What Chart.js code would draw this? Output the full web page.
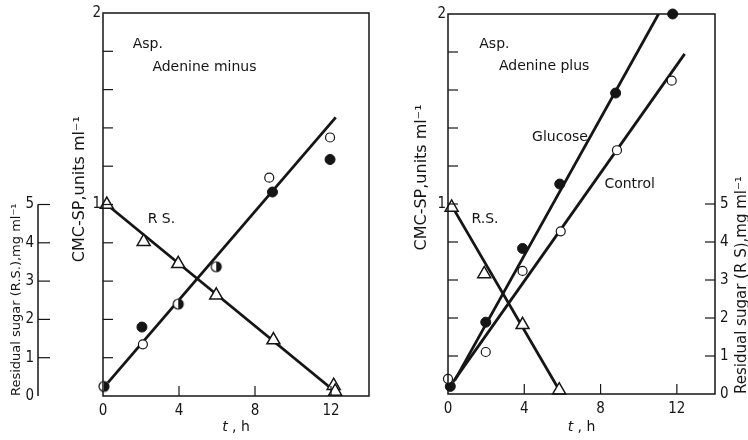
<!DOCTYPE html>
<html>
<head>
<meta charset="utf-8">
<script src="https://cdn.jsdelivr.net/npm/chart.js@4.4.1/dist/chart.umd.min.js"></script>
<style>
  html, body { margin: 0; padding: 0; background: #fff; }
  #wrap { position: relative; width: 748px; height: 440px; }
  #wrap canvas { position: absolute; top: 0; }
  #left { left: 0; }
  #right { left: 380px; }
</style>
</head>
<body>
<div id="wrap">
  <canvas id="left" width="380" height="440"></canvas>
  <canvas id="right" width="368" height="440"></canvas>
</div>
<script>
// tick values
const T_TICKS = [0, 4, 8, 12];
const CMC_TICKS = [0, 0.2, 0.4, 0.6, 0.8, 1, 1.2, 1.4, 1.6, 1.8, 2];
const CMC_LABELS = [1, 2];
const RS_TICKS = [0, 1, 2, 3, 4, 5];

// Adenine minus (left panel)
const minusOpenT = [2.1, 8.75, 11.95];
const minusOpenCmc = [0.27, 1.14, 1.35];
const minusFilledT = [2.05, 8.92, 11.95];
const minusFilledCmc = [0.36, 1.065, 1.235];
const minusHalfT = [0.05, 3.96, 5.96];
const minusHalfCmc = [0.05, 0.48, 0.675];
const minusFitT = [0.26, 12.25];
const minusFitCmc = [0.07, 1.455];
const minusRsT = [0.2, 2.14, 3.96, 5.96, 8.97, 12.14, 12.22];
const minusRs = [5.0, 4.03, 3.45, 2.63, 1.46, 0.27, 0.12];
const minusRsFitT = [0.2, 12.5];
const minusRsFit = [5.0, 0];

// Adenine plus (right panel)
const glucoseT = [0.12, 1.98, 3.91, 5.86, 8.79, 11.78];
const glucoseCmc = [0.04, 0.378, 0.766, 1.105, 1.584, 2.0];
const glucoseFitT = [0.36, 11.04];
const glucoseFitCmc = [0.073, 2.0];
const controlT = [0.0, 1.98, 3.91, 5.91, 8.86, 11.73];
const controlCmc = [0.08, 0.221, 0.648, 0.856, 1.283, 1.649];
const controlFitT = [0.27, 12.41];
const controlFitCmc = [0.064, 1.79];
const plusRsT = [0.19, 1.9, 3.91, 5.83];
const plusRs = [4.91, 3.16, 1.82, 0.1];
const plusRsFitT = [0.2, 5.95];
const plusRsFit = [4.95, 0];

const INK = '#151515';
const FAMILY = "'DejaVu Sans', sans-serif";
const TICK_FONT = { family: "'DejaVu Sans Condensed', 'DejaVu Sans', sans-serif", size: 15 };
const TITLE_FONT = { family: FAMILY, size: 13 };
const NOTE_FONT = '14px ' + FAMILY;

const xy = (ts, vs) => ts.map((t, i) => ({ x: t, y: vs[i] }));

// half filled circle used where the two series overlap
function halfDot(r) {
  const c = document.createElement('canvas');
  const s = 2 * r + 4;
  c.width = c.height = s;
  const g = c.getContext('2d');
  const m = s / 2;
  g.beginPath(); g.arc(m, m, r, 0, 2 * Math.PI); g.fillStyle = '#fff'; g.fill();
  g.beginPath(); g.moveTo(m, m - r); g.arc(m, m, r, -Math.PI / 2, Math.PI / 2); g.closePath();
  g.fillStyle = INK; g.fill();
  g.beginPath(); g.arc(m, m, r, 0, 2 * Math.PI); g.lineWidth = 1.2; g.strokeStyle = INK; g.stroke();
  return c;
}

const styles = {
  open: { pointStyle: 'circle', pointRadius: 4.5, pointBackgroundColor: '#fff', pointBorderColor: INK, pointBorderWidth: 1.2 },
  filled: { pointStyle: 'circle', pointRadius: 5, pointBackgroundColor: INK, pointBorderColor: INK, pointBorderWidth: 1 },
  half: { pointStyle: halfDot(5), pointRadius: 5 },
  tri: { pointStyle: 'triangle', pointRadius: 7.5, pointBackgroundColor: '#fff', pointBorderColor: INK, pointBorderWidth: 1.5 }
};

const points = (ts, vs, axis, style) => Object.assign({ data: xy(ts, vs), yAxisID: axis, showLine: false, clip: false }, style);
const fit = (ts, vs, axis) => ({ data: xy(ts, vs), yAxisID: axis, showLine: true, borderColor: INK, borderWidth: 2.8, pointRadius: 0, order: 1 });

// frame round the plot area, inward tick marks, short axis lines
const frameAndTicks = {
  id: 'frameAndTicks',
  afterDraw(chart, args, opts) {
    const ctx = chart.ctx;
    const a = chart.chartArea;
    ctx.save();
    ctx.strokeStyle = INK;
    ctx.lineWidth = 1.5;
    ctx.strokeRect(a.left, a.top, a.right - a.left, a.bottom - a.top);
    ctx.lineWidth = 1.2;
    (opts.marks || []).forEach(m => {
      const s = chart.scales[m.id];
      const x0 = s.position === 'left' ? s.right : s.left;
      const dir = s.position === 'left' ? 1 : -1;
      if (m.line) {
        ctx.beginPath();
        ctx.moveTo(x0, s.getPixelForValue(m.line[0]));
        ctx.lineTo(x0, s.getPixelForValue(m.line[1]));
        ctx.lineWidth = 1.5; ctx.stroke(); ctx.lineWidth = 1.2;
      }
      s.ticks.forEach(t => {
        if (m.skip && m.skip.includes(t.value)) return;
        const p = s.getPixelForValue(t.value);
        ctx.beginPath();
        if (s.isHorizontal()) { ctx.moveTo(p, s.top); ctx.lineTo(p, s.top - m.len); }
        else { ctx.moveTo(x0, p); ctx.lineTo(x0 + dir * m.len, p); }
        ctx.stroke();
      });
    });
    ctx.restore();
  }
};

// in-plot labels, x title with italic t, rotated axis titles
const texts = {
  id: 'texts',
  afterDraw(chart, args, opts) {
    const ctx = chart.ctx;
    const x = chart.scales.x, y = chart.scales.y;
    ctx.save();
    ctx.fillStyle = INK;
    ctx.textBaseline = 'middle';
    ctx.font = NOTE_FONT;
    (opts.notes || []).forEach(n => ctx.fillText(n.text, x.getPixelForValue(n.t), y.getPixelForValue(n.v)));

    const cx = (chart.chartArea.left + chart.chartArea.right) / 2;
    const ty = x.bottom - 13;
    ctx.font = 'italic 14px ' + FAMILY;
    const w1 = ctx.measureText('t').width;
    ctx.font = '14px ' + FAMILY;
    const w2 = ctx.measureText(' , h').width;
    const x1 = cx - (w1 + w2) / 2;
    ctx.font = 'italic 14px ' + FAMILY;
    ctx.fillText('t', x1, ty);
    ctx.font = '14px ' + FAMILY;
    ctx.fillText(' , h', x1 + w1, ty);

    (opts.vtitles || []).forEach(v => {
      const s = chart.scales[v.id];
      const px = v.from === 'left' ? s.left + v.inset : s.right - v.inset;
      const py = v.anchor === 'start' ? s.bottom : y.getPixelForValue(v.at);
      ctx.save();
      ctx.translate(px, py);
      ctx.rotate(-Math.PI / 2);
      ctx.textAlign = v.anchor === 'start' ? 'left' : 'center';
      ctx.font = v.size + 'px ' + FAMILY;
      ctx.fillText(v.text, 0, 0);
      ctx.restore();
    });
    ctx.restore();
  }
};

const setTicks = vals => s => { s.ticks = vals.map(v => ({ value: v })); };
const noGrid = { display: false, drawTicks: false };

function xScale(h) {
  return {
    type: 'linear', min: 0, max: 14, position: 'bottom',
    afterBuildTicks: setTicks(T_TICKS),
    afterFit: s => { s.height = h; },
    grid: noGrid, border: { display: false },
    ticks: { font: TICK_FONT, color: INK, padding: 6, maxRotation: 0 }
  };
}

function cmcScale(w) {
  return {
    type: 'linear', min: 0, max: 2, position: 'left', weight: 0,
    afterBuildTicks: setTicks(CMC_TICKS),
    afterFit: s => { s.width = w; },
    grid: noGrid, border: { display: false },
    ticks: { font: TICK_FONT, color: INK, padding: 2, autoSkip: false,
      callback: v => CMC_LABELS.includes(v) ? String(v) : '' }
  };
}

const common = {
  responsive: false,
  animation: false,
  devicePixelRatio: 1
};

new Chart(document.getElementById('left'), {
  type: 'scatter',
  data: {
    datasets: [
      points(minusOpenT, minusOpenCmc, 'y', styles.open),
      points(minusFilledT, minusFilledCmc, 'y', styles.filled),
      points(minusHalfT, minusHalfCmc, 'y', styles.half),
      points(minusRsT, minusRs, 'rs', styles.tri),
      fit(minusFitT, minusFitCmc, 'y'),
      fit(minusRsFitT, minusRsFit, 'rs')
    ]
  },
  options: Object.assign({}, common, {
    layout: { padding: { top: 12, right: 11, left: 0, bottom: 0 } },
    plugins: {
      legend: { display: false },
      tooltip: { enabled: false },
      frameAndTicks: {
        marks: [
          { id: 'x', len: 10, skip: [0] },
          { id: 'y', len: 10, skip: [0, 2] },
          { id: 'rs', len: 12, skip: [0], line: [0, 5] }
        ]
      },
      texts: {
        notes: [
          { t: 1.56, v: 1.834, text: 'Asp.' },
          { t: 2.6, v: 1.714, text: 'Adenine minus' },
          { t: 2.35, v: 0.925, text: 'R S.' }
        ],
        vtitles: [
          { id: 'y', from: 'left', inset: 42, anchor: 'center', at: 1.08, size: 16, text: 'CMC-SP,units ml⁻¹' }
        ]
      }
    },
    scales: {
      x: xScale(44),
      y: cmcScale(65),
      rs: {
        type: 'linear', min: 0, max: 10, position: 'left', weight: 1,
        afterBuildTicks: setTicks(RS_TICKS),
        afterFit: s => { s.width = 38; },
        grid: noGrid, border: { display: false },
        ticks: { font: TICK_FONT, color: INK, padding: 4 },
        title: { display: true, text: 'Residual sugar (R.S.),mg ml⁻¹', align: 'start', font: TITLE_FONT, color: INK, padding: { top: 9, bottom: 0 } }
      }
    }
  }),
  plugins: [frameAndTicks, texts]
});

new Chart(document.getElementById('right'), {
  type: 'scatter',
  data: {
    datasets: [
      points(controlT, controlCmc, 'y', styles.open),
      points(glucoseT, glucoseCmc, 'y', styles.filled),
      points(plusRsT, plusRs, 'rs', styles.tri),
      fit(glucoseFitT, glucoseFitCmc, 'y'),
      fit(controlFitT, controlFitCmc, 'y'),
      fit(plusRsFitT, plusRsFit, 'rs')
    ]
  },
  options: Object.assign({}, common, {
    layout: { padding: { top: 11, right: 0, left: 0, bottom: 0 } },
    plugins: {
      legend: { display: false },
      tooltip: { enabled: false },
      frameAndTicks: {
        marks: [
          { id: 'x', len: 10, skip: [0] },
          { id: 'y', len: 10, skip: [0, 2] },
          { id: 'rs', len: 10, skip: [0] }
        ]
      },
      texts: {
        notes: [
          { t: 1.64, v: 1.838, text: 'Asp.' },
          { t: 2.67, v: 1.723, text: 'Adenine plus' },
          { t: 4.41, v: 1.352, text: 'Glucose' },
          { t: 8.2, v: 1.102, text: 'Control' },
          { t: 1.23, v: 0.919, text: 'R.S.' }
        ],
        vtitles: [
          { id: 'y', from: 'left', inset: 42, anchor: 'center', at: 1.14, size: 16, text: 'CMC-SP,units ml⁻¹' },
          { id: 'rs', from: 'right', inset: 6, anchor: 'start', size: 15, text: 'Residual sugar (R S),mg ml⁻¹' }
        ]
      }
    },
    scales: {
      x: xScale(46),
      y: cmcScale(68),
      rs: {
        type: 'linear', min: 0, max: 10, position: 'right',
        afterBuildTicks: setTicks(RS_TICKS),
        afterFit: s => { s.width = 33; },
        grid: noGrid, border: { display: false },
        ticks: { font: TICK_FONT, color: INK, padding: 5 }
      }
    }
  }),
  plugins: [frameAndTicks, texts]
});
</script>
</body>
</html>
